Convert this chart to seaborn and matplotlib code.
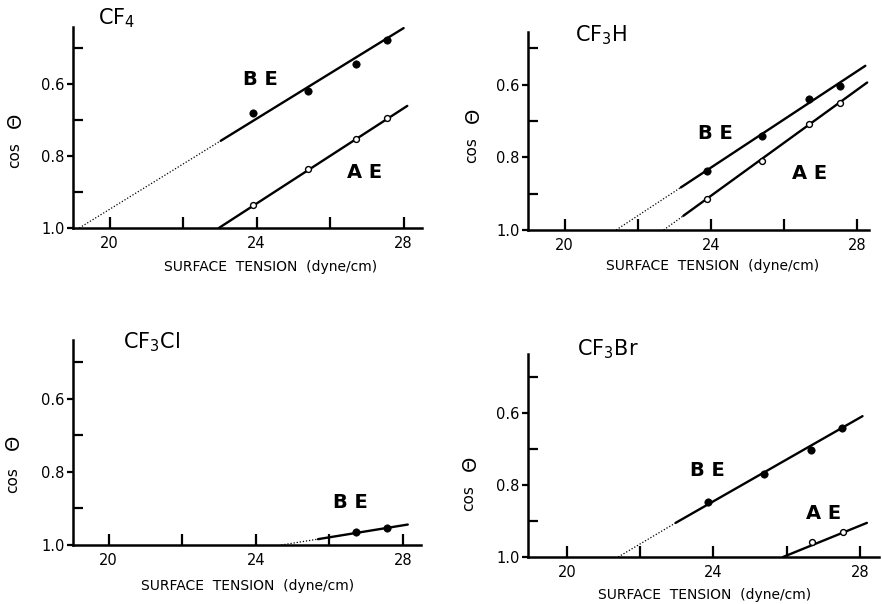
import numpy as np
import pandas as pd
import matplotlib
matplotlib.use("Agg")
import matplotlib.pyplot as plt
import seaborn as sns

# CF4 - measured points (surface tension in dyne/cm, cos theta)
cf4_x = [23.9, 25.4, 26.7, 27.55]
cf4_be = [0.68, 0.621, 0.545, 0.478]
cf4_ae = [0.936, 0.836, 0.754, 0.695]
# fitted lines: [dotted start, solid start, solid end]
cf4_be_line_x = [19.17, 23.02, 28.0]
cf4_be_line_y = [1.0, 0.758, 0.445]
cf4_ae_line_x = [22.97, 22.97, 28.1]
cf4_ae_line_y = [1.0, 1.0, 0.661]

# CF3H
cf3h_x = [23.91, 25.41, 26.7, 27.55]
cf3h_be = [0.837, 0.741, 0.639, 0.605]
cf3h_ae = [0.915, 0.810, 0.709, 0.651]
cf3h_be_line_x = [21.41, 23.18, 28.23]
cf3h_be_line_y = [1.0, 0.883, 0.548]
cf3h_ae_line_x = [22.71, 23.25, 28.28]
cf3h_ae_line_y = [1.0, 0.961, 0.594]

# CF3Cl (only BE)
cf3cl_x = [26.71, 27.56]
cf3cl_be = [0.965, 0.953]
cf3cl_be_line_x = [24.69, 25.69, 28.13]
cf3cl_be_line_y = [1.0, 0.984, 0.944]

# CF3Br
cf3br_be_x = [23.84, 25.37, 26.66, 27.52]
cf3br_be = [0.847, 0.770, 0.702, 0.642]
cf3br_ae_x = [26.70, 27.55]
cf3br_ae = [0.958, 0.931]
cf3br_be_line_x = [21.4, 22.97, 28.07]
cf3br_be_line_y = [1.0, 0.905, 0.608]
cf3br_ae_line_x = [25.9, 25.9, 28.19]
cf3br_ae_line_y = [1.0, 1.0, 0.905]

titles = ["CF$_4$", "CF$_3$H", "CF$_3$Cl", "CF$_3$Br"]
x_major = [20, 24, 28]
x_minor = [22, 26]
y_major = [0.6, 0.8, 1.0]
y_minor = [0.5, 0.7, 0.9]

W, H = 882, 604

sns.set_theme(style="ticks", rc={"axes.edgecolor": "black", "text.color": "black",
                                 "xtick.color": "black", "ytick.color": "black",
                                 "axes.labelcolor": "black"})
plt.rcParams['font.family'] = ['DejaVu Sans']

fig = plt.figure(figsize=(W / 100, H / 100), dpi=100)


def add_panel(left, right, top, bottom, xlim, ylim_top):
    ax = fig.add_axes([left / W, 1 - bottom / H, (right - left) / W, (bottom - top) / H])
    ax.set_xlim(*xlim)
    ax.set_ylim(1.0, ylim_top)
    sns.despine(ax=ax)
    for s in ["left", "bottom"]:
        ax.spines[s].set_linewidth(1.8)
    ax.set_xticks(x_major)
    ax.set_xticks(x_minor, minor=True)
    ax.set_yticks(y_major)
    ax.set_yticks(y_minor, minor=True)
    ax.set_yticklabels(["0.6", "0.8", "1.0"])
    ax.tick_params(axis="x", which="both", direction="in", length=8, width=1.6,
                   labelsize=10.5, pad=6)
    ax.tick_params(axis="y", which="major", direction="out", length=4, width=1.6,
                   labelsize=10.5, pad=2)
    ax.tick_params(axis="y", which="minor", direction="in", length=7, width=1.6)
    ax.set_xlabel("")
    ax.set_ylabel("")
    return ax


def draw_fit(ax, lx, ly):
    if lx[0] < lx[1]:
        sns.lineplot(x=lx[:2], y=ly[:2], ax=ax, color="black", linestyle=(0, (1, 1.5)),
                     linewidth=0.9, sort=False, estimator=None)
    sns.lineplot(x=lx[1:], y=ly[1:], ax=ax, color="black", linewidth=1.7,
                 sort=False, estimator=None)


def draw_points(ax, x, y, filled):
    if filled:
        sns.scatterplot(x=x, y=y, ax=ax, color="black", s=28, edgecolor="black",
                        linewidth=0.5, zorder=5)
    else:
        sns.scatterplot(x=x, y=y, ax=ax, facecolor="white", s=18, edgecolor="black",
                        linewidth=1.0, zorder=5)


label_kw = dict(fontsize=14, fontweight="bold", ha="center", va="center", color="black")

# panel 1: CF4
ax1 = add_panel(73, 422, 27, 228, (19.0, 28.5), 0.442)
draw_fit(ax1, cf4_be_line_x, cf4_be_line_y)
draw_fit(ax1, cf4_ae_line_x, cf4_ae_line_y)
draw_points(ax1, cf4_x, cf4_be, True)
draw_points(ax1, cf4_x, cf4_ae, False)
ax1.text(24.1, 0.589, "B E", **label_kw)
ax1.text(26.95, 0.845, "A E", **label_kw)

# panel 2: CF3H
ax2 = add_panel(528, 869, 32, 230, (19.0, 28.33), 0.455)
draw_fit(ax2, cf3h_be_line_x, cf3h_be_line_y)
draw_fit(ax2, cf3h_ae_line_x, cf3h_ae_line_y)
draw_points(ax2, cf3h_x, cf3h_be, True)
draw_points(ax2, cf3h_x, cf3h_ae, False)
ax2.text(24.14, 0.734, "B E", **label_kw)
ax2.text(26.7, 0.844, "A E", **label_kw)

# panel 3: CF3Cl
ax3 = add_panel(73, 421, 340, 545, (19.03, 28.49), 0.439)
draw_fit(ax3, cf3cl_be_line_x, cf3cl_be_line_y)
draw_points(ax3, cf3cl_x, cf3cl_be, True)
ax3.text(26.56, 0.883, "B E", **label_kw)

# panel 4: CF3Br
ax4 = add_panel(528, 879, 354, 557, (18.94, 28.52), 0.435)
draw_fit(ax4, cf3br_be_line_x, cf3br_be_line_y)
draw_fit(ax4, cf3br_ae_line_x, cf3br_ae_line_y)
draw_points(ax4, cf3br_be_x, cf3br_be, True)
draw_points(ax4, cf3br_ae_x, cf3br_ae, False)
ax4.text(23.84, 0.759, "B E", **label_kw)
ax4.text(27.02, 0.88, "A E", **label_kw)

# titles, axis labels (pixel positions of the scanned figure)
title_pos = [(117, 18), (601, 35), (152, 342), (608, 349)]
theta_pos = [(15, 120), (473, 115), (13, 442), (470, 463)]
cos_pos = [(15, 155), (472, 150), (13, 480), (469, 498)]
xlab_pos = [(271, 267), (713, 266), (248, 586), (705, 595)]
for t, (tx, ty), (hx, hy), (cx, cy), (xx, xy) in zip(titles, title_pos, theta_pos,
                                                      cos_pos, xlab_pos):
    fig.text(tx / W, 1 - ty / H, t, fontsize=15, ha="center", va="center")
    fig.text(cx / W, 1 - cy / H, "cos", fontsize=11, rotation=90,
             ha="center", va="center")
    fig.text(hx / W, 1 - hy / H, "Θ", fontsize=14, rotation=90,
             ha="center", va="center")
    fig.text(xx / W, 1 - xy / H, "SURFACE  TENSION  (dyne/cm)", fontsize=10,
             ha="center", va="center")

fig.savefig("out.png", dpi=100)
